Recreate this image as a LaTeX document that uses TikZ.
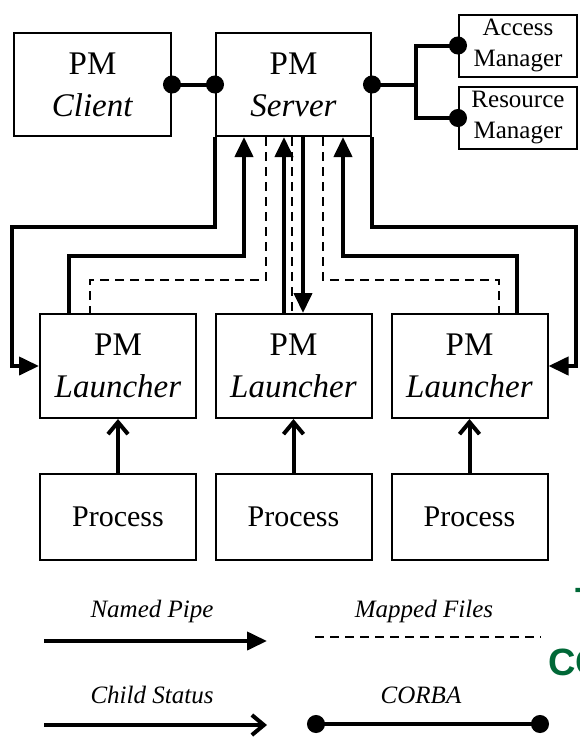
\documentclass[tikz,border=0pt]{standalone}
\usepackage{fontspec}
\setmainfont{Liberation Serif}
\newfontfamily\headfont{Liberation Sans}
\usetikzlibrary{arrows.meta}
\definecolor{headgreen}{RGB}{0,104,55}
\begin{document}
\begin{tikzpicture}[x=0.5pt,y=-0.5pt,
    box/.style={draw=black,line width=1pt,inner sep=0pt,align=center,font=\fontsize{16.5}{21}\selectfont},
    mgrbox/.style={box,minimum width=59pt,minimum height=31pt,font=\fontsize{12.5}{15.5}\selectfont},
    lnbox/.style={box,minimum width=78pt,minimum height=52pt},
    prbox/.style={box,minimum width=78pt,minimum height=43pt,font=\fontsize{15}{18}\selectfont},
    pipe/.style={line width=2pt,-{Triangle[length=10pt,width=9pt]}},
    status/.style={line width=2pt,-{Straight Barb[length=6pt,width=10pt]}},
    mapped/.style={line width=1pt,dash pattern=on 4.5pt off 3pt},
    corba/.style={line width=2pt,{Circle[length=9pt]}-{Circle[length=9pt]},shorten <=-4.5pt,shorten >=-4.5pt},
    legend/.style={anchor=base,inner sep=0pt,font=\fontsize{12.5}{15}\selectfont\itshape}]
        \useasboundingbox (0,0) rectangle (579,745);

        %CLIENT AND SERVER
        \node[box,minimum width=78.5pt,minimum height=51.5pt] (cli) at (92.5,84.5) {PM\\\textit{Client}};
        \node[box,minimum width=77.5pt,minimum height=51.5pt] (srv) at (293.5,84.5) {PM\\\textit{Server}};
        \node[mgrbox] (acc) at (518,45.5) {Access\\Manager};
        \node[mgrbox] (res) at (518,118) {Resource\\Manager};

        %LAUNCHERS
        \node[lnbox] (lnA) at (118,366) {PM\\\textit{Launcher}};
        \node[lnbox] (lnB) at (293.5,366) {PM\\\textit{Launcher}};
        \node[lnbox] (lnC) at (469.5,366) {PM\\\textit{Launcher}};

        %PROCESSES
        \node[prbox] (prA) at (118,517) {Process};
        \node[prbox] (prB) at (293.5,517) {Process};
        \node[prbox] (prC) at (469.5,517) {Process};

        %CORBA
        \draw[corba] (cli) -- (srv);
        \draw[corba] (srv.east) -- ++(44,0) coordinate (br) |- (acc.west);
        \draw[line width=2pt,-{Circle[length=9pt]},shorten >=-4.5pt] (br) |- (res.west);

        %NAMED PIPES
        \draw[pipe] (srv.south west) |- (12,227) |- (lnA.west);
        \draw[pipe] (srv.south east) |- (576,227) |- (lnC.east);
        \draw[pipe] (lnA.north -| 69,0) |- (244,256) -- (srv.south -| 244,0);
        \draw[pipe] (lnB.north -| 284,0) -- (srv.south -| 284,0);
        \draw[pipe] (srv.south -| 303,0) -- (lnB.north -| 303,0);
        \draw[pipe] (lnC.north -| 517,0) |- (343,256) -- (srv.south -| 343,0);

        %MAPPED FILES
        \draw[mapped] (srv.south -| 266,0) |- (90,280) -- (lnA.north -| 90,0);
        \draw[mapped] (srv.south -| 292,0) -- (lnB.north -| 292,0);
        \draw[mapped] (srv.south -| 323,0) |- (499,280) -- (lnC.north -| 499,0);

        %CHILD STATUS
        \draw[status] (prA) -- (lnA);
        \draw[status] (prB) -- (lnB);
        \draw[status] (prC) -- (lnC);

        %LEGEND
        \node[legend] (lgPipe) at (152,617) {Named Pipe};
        \node[legend] (lgMap) at (424,617) {Mapped Files};
        \node[legend] (lgStat) at (152,703) {Child Status};
        \node[legend] (lgCorba) at (421,703) {CORBA};
        \coordinate (pipeL) at (44,641);   \coordinate (pipeR) at (267,641);
        \coordinate (mapL) at (315,637);   \coordinate (mapR) at (541,637);
        \coordinate (statL) at (44,725);   \coordinate (statR) at (267,725);
        \coordinate (corbaL) at (316,724); \coordinate (corbaR) at (540,724);
        \draw[pipe] (pipeL) -- (pipeR);
        \draw[mapped] (mapL) -- (mapR);
        \draw[status] (statL) -- (statR);
        \draw[corba] (corbaL) -- (corbaR);

        % clipped heading of the next column
        \node[anchor=base west,inner sep=0pt,text=headgreen,font={\headfont\bfseries\fontsize{19}{19}\selectfont}] (hdA) at (575,614) {T};
        \node[anchor=base west,inner sep=0pt,text=headgreen,font={\headfont\bfseries\fontsize{19}{19}\selectfont}] (hdB) at (548,675) {CO};
\end{tikzpicture}
\end{document}
